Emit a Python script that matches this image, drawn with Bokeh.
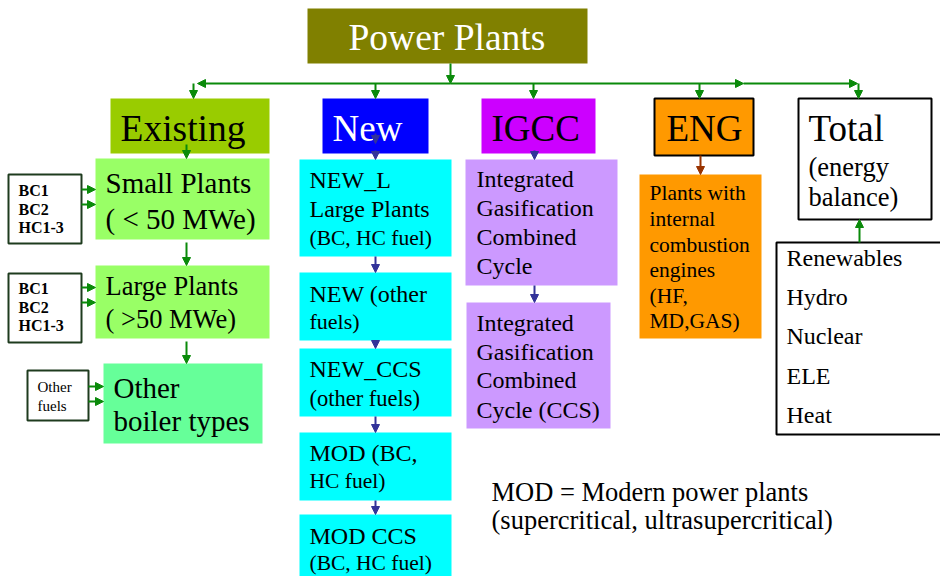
from bokeh.plotting import figure
from bokeh.models import Range1d, Arrow, NormalHead, ColumnDataSource
from bokeh.core.properties import value
from bokeh.embed import file_html
from bokeh.resources import INLINE

# ---------------- boxes (page-pixel layout) ----------------
box_names = ["Power Plants", "Existing", "New", "IGCC", "ENG", "Total",
             "Small", "Large", "OtherBoiler", "Fuel1", "Fuel2", "Fuel3",
             "NEW_L", "NEW_other", "NEW_CCS", "MOD", "MOD_CCS",
             "IGCC1", "IGCC2", "ENG_sub", "Balance"]
box_left = [307, 110, 322, 481, 654, 798, 95, 95, 103, 8, 8, 27,
            299, 299, 299, 299, 299, 465, 466, 639, 776]
box_right = [587, 269, 428, 595, 753, 931, 269, 269, 262, 81, 81, 88,
             451, 451, 451, 451, 451, 617, 610, 761, 950]
box_top = [8, 98, 98, 98, 98, 98, 158, 265, 363, 174, 273, 370,
           159, 272, 348, 432, 514, 159, 302, 174, 242]
box_bottom = [63, 153, 153, 153, 155, 219, 239, 338, 443, 243, 342, 420,
              256, 340, 416, 500, 590, 285, 428, 338, 434]
box_fill = ["#808000", "#99CC00", "#0000FF", "#CC00FF", "#FF9900", "#FFFFFF",
            "#99FF66", "#99FF66", "#66FF99", "#FFFFFF", "#FFFFFF", "#FFFFFF",
            "#00FFFF", "#00FFFF", "#00FFFF", "#00FFFF", "#00FFFF",
            "#CC99FF", "#CC99FF", "#FF9900", "#FFFFFF"]
box_line = [None, None, None, None, "#000000", "#000000",
            None, None, None, "#1E3B1E", "#1E3B1E", "#1E3B1E",
            None, None, None, None, None, None, None, None, "#000000"]

# ---------------- text lines ----------------
text_lines = ["Power Plants", "Existing", "New", "IGCC", "ENG", "Total",
              "(energy", "balance)",
              "Renewables", "Hydro", "Nuclear", "ELE", "Heat",
              "Plants with", "internal", "combustion", "engines", "(HF,", "MD,GAS)",
              "Small Plants", "( < 50 MWe)", "Large Plants", "( >50 MWe)",
              "Other", "boiler types",
              "BC1", "BC2", "HC1-3", "BC1", "BC2", "HC1-3", "Other", "fuels",
              "NEW_L", "Large Plants", "(BC, HC fuel)",
              "NEW (other", "fuels)", "NEW_CCS", "(other fuels)",
              "MOD (BC,", "HC fuel)", "MOD CCS", "(BC, HC fuel)",
              "Integrated", "Gasification", "Combined", "Cycle",
              "Integrated", "Gasification", "Combined", "Cycle (CCS)",
              "MOD = Modern power plants", "(supercritical, ultrasupercritical)"]
text_x = [348, 120, 332, 491, 666, 808, 808, 808,
          786, 786, 786, 786, 786,
          649, 649, 649, 649, 649, 649,
          105, 105, 105, 105, 113, 113,
          18, 18, 18, 18, 18, 18, 37, 37,
          309, 309, 309, 309, 309, 309, 309, 309, 309, 309, 309,
          476, 476, 476, 476, 476, 476, 476, 476,
          491, 491]
text_y = [49, 140, 140, 140, 140, 140, 175, 205,
          265, 304, 343, 383, 422,
          200, 225.6, 251.2, 276.8, 302.4, 328,
          192, 228, 294, 327, 397, 430,
          195, 214, 232, 293, 312, 330, 391, 410,
          187, 216, 245, 301, 328, 376, 405, 460, 488, 543, 570,
          186, 215, 244, 273, 330, 359, 387, 417,
          500, 528]
text_px = [37.5, 37.5, 37, 37, 37, 37, 26.5, 26.5,
           24, 24, 24, 24, 24,
           21.5, 21.5, 21.5, 21.5, 21.5, 21.5,
           29, 29, 26.5, 26.5, 29, 29,
           16, 16, 16, 16, 16, 16, 15, 15,
           24, 24, 21.5, 24, 22, 24, 22.5,
           24, 21.5, 24, 21.5,
           24, 24, 24, 24, 24, 24, 24, 24,
           26.5, 26.5]
text_color = ["#FFFFFF", "#000000", "#FFFFFF"] + ["#000000"] * (len(text_lines) - 3)
text_style = ["normal"] * 25 + ["bold"] * 6 + ["normal"] * (len(text_lines) - 31)

# ---------------- arrows ----------------
green_x0 = [450, 450, 450, 743, 193, 375, 533, 699, 858, 186, 186, 186,
            81, 81, 81, 81, 88, 88, 859]
green_y0 = [63, 83, 83, 83, 83, 83, 83, 83, 83, 144, 242, 341,
            189, 204, 287, 302, 386, 401, 242]
green_x1 = [450, 197, 743, 857, 193, 375, 533, 699, 858, 186, 186, 186,
            95, 95, 95, 95, 103, 103, 859]
green_y1 = [83, 83, 83, 83, 98, 98, 98, 98, 98, 158, 265, 363,
            189, 204, 287, 302, 386, 401, 219]

navy_x0 = [375, 375, 534, 375, 375, 375, 375, 534]
navy_y0 = [133, 150, 150, 256, 340, 416, 500, 285]
navy_x1 = [375, 375, 534, 375, 375, 375, 375, 534]
navy_y1 = [143, 159, 159, 272, 348, 432, 514, 302]

brown_x0 = [700]
brown_y0 = [155]
brown_x1 = [700]
brown_y1 = [174]

p = figure(width=940, height=576, x_range=Range1d(0, 940), y_range=Range1d(576, 0),
           output_backend="svg", toolbar_location=None, min_border=0,
           x_axis_location=None, y_axis_location=None)
p.grid.visible = False
p.outline_line_color = None
p.background_fill_color = "#FFFFFF"
p.border_fill_color = "#FFFFFF"

for i in range(len(box_names)):
    lc = box_line[i]
    p.quad(left=box_left[i], right=box_right[i], top=box_top[i], bottom=box_bottom[i],
           fill_color=box_fill[i], line_color=lc if lc else None,
           line_width=2 if lc else 0)

def add_arrows(x0, y0, x1, y1, color):
    src = ColumnDataSource(dict(x0=x0, y0=y0, x1=x1, y1=y1))
    p.add_layout(Arrow(end=NormalHead(size=8, fill_color=color, line_color=color, line_width=1),
                       x_start="x0", y_start="y0", x_end="x1", y_end="y1",
                       source=src, line_color=color, line_width=2))

add_arrows(green_x0, green_y0, green_x1, green_y1, "#0A8A0A")
add_arrows(navy_x0, navy_y0, navy_x1, navy_y1, "#333399")
add_arrows(brown_x0, brown_y0, brown_x1, brown_y1, "#993300")

draw_y = [y - 0.33 * s for y, s in zip(text_y, text_px)]
tsrc = ColumnDataSource(dict(x=text_x, y=draw_y, text=text_lines,
                             size=["%gpx" % s for s in text_px],
                             color=text_color, style=text_style))
p.text(x="x", y="y", text="text", source=tsrc,
       text_font=value("'Liberation Serif', 'Times New Roman', serif"),
       text_font_size="size", text_color="color", text_font_style="style",
       text_align="left", text_baseline="alphabetic")

open("out.html", "w").write(file_html(p, INLINE))
